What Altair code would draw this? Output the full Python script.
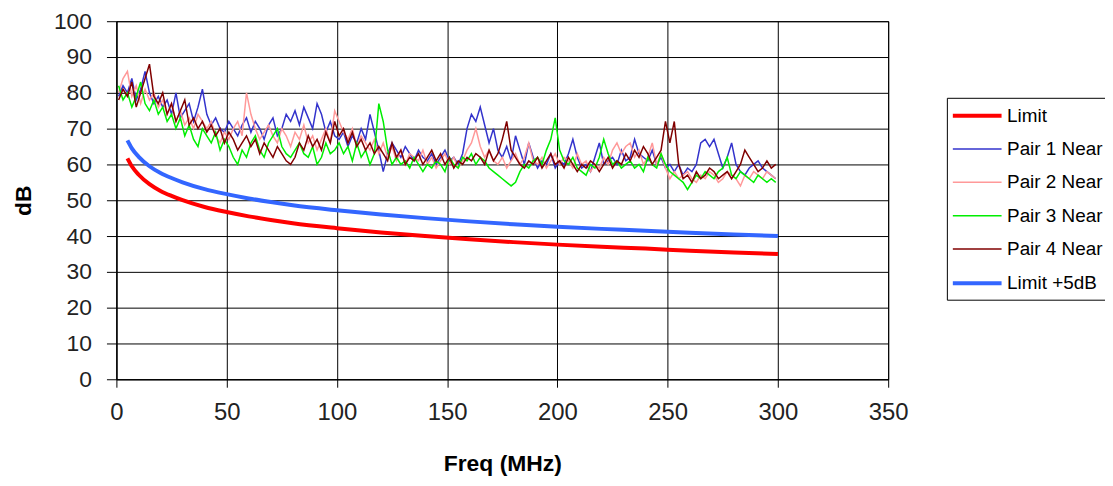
import altair as alt
import pandas as pd

# Sweep frequencies of the measured pairs (MHz)
pair_freq = list(range(1, 300, 2))

pair1 = [
    79, 82, 80, 84, 78, 81, 86, 80, 77, 79,
    76, 78, 74, 80, 73, 75, 77, 72, 76, 81,
    74, 71, 73, 70, 69, 72, 70, 68, 71, 73,
    69, 72, 70, 67, 71, 73, 68, 70, 74, 72,
    75, 71, 76, 73, 70, 77, 74, 69, 72, 68,
    67, 69, 65, 68, 66, 70, 67, 74, 69, 64,
    58, 63, 66, 64, 62, 65, 63, 61, 64, 62,
    61, 63, 60, 62, 64, 61, 62, 60, 63, 70,
    74, 72, 76, 71, 66, 70, 64, 62, 65, 61,
    68, 64, 60, 66, 62, 59, 61, 60, 63, 59,
    61, 60, 63, 67, 62, 59, 60, 58, 62, 66,
    60, 61, 62, 60, 64, 61, 62, 67, 63, 62,
    61, 64, 60, 62, 59, 60, 58, 60, 57, 59,
    58, 60, 66, 67, 65, 67, 63, 59, 62, 66,
    60, 58, 57, 59, 60, 61, 59, 58, 57, 56,
]
pair2 = [
    80, 84, 86, 79, 82, 77, 81, 78, 80, 76,
    78, 74, 77, 72, 75, 71, 73, 70, 74, 72,
    70, 72, 68, 66, 69, 67, 70, 72, 68, 80,
    74, 70, 67, 69, 71, 68, 66, 70, 68, 65,
    69, 67, 71, 66, 68, 64, 67, 70, 66, 75,
    72, 69, 67, 70, 65, 68, 66, 64, 67, 63,
    66, 62, 65, 61, 64, 60, 63, 62, 61, 64,
    60, 62, 59, 61, 63, 60, 62, 59, 61, 64,
    66, 70, 65, 62, 64, 61, 60, 62, 59, 61,
    63, 60, 62, 66, 61, 60, 62, 59, 61, 63,
    60, 62, 61, 59, 63, 60, 61, 58, 60, 59,
    62, 60, 64, 66, 63, 65, 66, 62, 64, 60,
    62, 66, 60, 63, 59, 56, 58, 56, 57, 58,
    56, 55, 57, 56, 58, 57, 55, 56, 58, 57,
    56, 54, 57, 56, 58, 57, 56, 58, 57, 56,
]
pair3 = [
    82, 78, 80, 76, 79, 83, 77, 75, 78, 74,
    76, 72, 74, 70, 73, 68, 71, 67, 65, 70,
    68, 66, 69, 64, 67, 65, 62, 60, 64, 62,
    66, 68, 64, 62, 66, 68, 70, 65, 63, 62,
    64, 66, 63, 62, 65, 60, 62, 66, 63, 64,
    66, 63, 65, 61, 66, 62, 64, 60, 63, 77,
    72, 64, 60, 62, 60, 61, 59, 62, 60, 58,
    60, 59, 61, 60, 58, 62, 60, 59, 62, 61,
    63, 60, 62, 61, 59, 58, 57, 56, 55, 54,
    55, 58, 60, 59, 61, 62, 60, 64, 67, 73,
    64, 61, 60, 62, 59, 58, 57, 60, 59, 62,
    67, 63, 60, 61, 59, 60, 61, 59, 60, 58,
    62, 60, 59, 63, 60, 58, 57, 56, 55, 53,
    55, 57, 56, 58, 57, 56, 58, 59, 62, 57,
    56, 58, 57, 56, 55, 57, 56, 55, 56, 55,
]
pair4 = [
    78, 81, 79, 83, 76, 80, 84, 88, 79, 77,
    80, 74, 77, 72, 75, 78, 71, 73, 70, 72,
    69, 71, 68, 70, 66, 69, 67, 64, 66, 68,
    65, 67, 63, 66, 64, 62, 65, 63, 61, 60,
    62, 66, 64, 68, 65, 67, 64, 69, 66, 72,
    68, 70, 66, 69, 65, 67, 64, 66, 63, 65,
    63, 61, 66, 62, 64, 60, 62, 61, 63, 60,
    62, 64, 61, 63, 60, 62, 59, 61, 60, 62,
    61, 63, 62, 60, 64, 61, 63, 67, 72, 64,
    62, 60, 59, 61, 60, 62, 59, 61, 63, 60,
    61, 59, 62, 60, 58, 60, 59, 61, 60, 58,
    60, 62, 59, 61, 60, 63, 61, 64, 62, 65,
    63, 60, 62, 64, 72, 66, 72, 60, 56, 57,
    55, 58, 56, 57, 59, 58, 56, 57, 58, 56,
    58, 60, 64, 62, 60, 58, 59, 61, 59, 60,
]

limit_freq = [5, 7, 10, 15, 20, 25, 30, 40, 50, 60, 70, 80, 100, 120, 140,
              160, 180, 200, 220, 240, 260, 280, 300]
limit_db = [61.7, 59.5, 57.2, 54.5, 52.6, 51.2, 50.0, 48.1, 46.7, 45.5, 44.5,
            43.6, 42.2, 41.0, 40.0, 39.1, 38.3, 37.6, 37.0, 36.5, 35.9, 35.4, 35.0]
limit5_db = [66.7, 64.5, 62.2, 59.5, 57.6, 56.2, 55.0, 53.1, 51.7, 50.5, 49.5,
             48.6, 47.2, 46.0, 45.0, 44.1, 43.3, 42.6, 42.0, 41.5, 40.9, 40.4, 40.0]

series_names = ["Limit", "Pair 1 Near", "Pair 2 Near", "Pair 3 Near",
                "Pair 4 Near", "Limit +5dB"]
series_colors = ["#ff0000", "#3333cc", "#ff9999", "#00ee00", "#800000", "#3366ff"]
series_widths = [4, 1.5, 1.5, 1.5, 1.5, 4]

x_ticks = [0, 50, 100, 150, 200, 250, 300, 350]
y_ticks = [0, 10, 20, 30, 40, 50, 60, 70, 80, 90, 100]

frames = [
    pd.DataFrame({"freq": limit_freq, "db": limit_db, "series": "Limit"}),
    pd.DataFrame({"freq": limit_freq, "db": limit5_db, "series": "Limit +5dB"}),
    pd.DataFrame({"freq": pair_freq, "db": pair1, "series": "Pair 1 Near"}),
    pd.DataFrame({"freq": pair_freq, "db": pair2, "series": "Pair 2 Near"}),
    pd.DataFrame({"freq": pair_freq, "db": pair3, "series": "Pair 3 Near"}),
    pd.DataFrame({"freq": pair_freq, "db": pair4, "series": "Pair 4 Near"}),
]
df = pd.concat(frames, ignore_index=True)

legend = alt.Legend(
    title=None, orient="none", legendX=835, legendY=77,
    strokeColor="black", fillColor="white", padding=6, rowPadding=12.5,
    labelFont="Liberation Sans", labelFontSize=19, labelColor="black",
    labelLimit=300, symbolType="M-2.5,0H2.5", symbolSize=384,
    symbolOffset=12.5, labelOffset=18, cornerRadius=0,
)

x_enc = alt.X("freq:Q", scale=alt.Scale(domain=[0, 350], nice=False),
              axis=alt.Axis(values=x_ticks, title="Freq (MHz)", labelFontSize=24,
                            titleFontSize=23, titlePadding=29, labelPadding=13,
                            tickSize=8, labelFlush=False))
y_enc = alt.Y("db:Q", scale=alt.Scale(domain=[0, 100], nice=False),
              axis=alt.Axis(values=y_ticks, title="dB", labelFontSize=23,
                            titleFontSize=23, titlePadding=18, labelPadding=15,
                            tickSize=10, labelFlush=False))
color_enc = alt.Color("series:N", scale=alt.Scale(domain=series_names, range=series_colors),
                      legend=legend)
width_enc = alt.StrokeWidth("series:N",
                            scale=alt.Scale(type="ordinal", domain=series_names, range=series_widths),
                            legend=legend)

layers = []
for name in ["Limit", "Limit +5dB", "Pair 1 Near", "Pair 2 Near", "Pair 3 Near", "Pair 4 Near"]:
    interp = "monotone" if name.startswith("Limit") else "linear"
    layers.append(
        alt.Chart(df).transform_filter(alt.datum.series == name)
        .mark_line(interpolate=interp, clip=True)
        .encode(x=x_enc, y=y_enc, color=color_enc, strokeWidth=width_enc)
    )

chart = alt.layer(*layers).properties(
    width=776, height=360,
    padding={"left": 109, "top": 12, "right": 218, "bottom": 100},
    autosize="none",
).configure_view(stroke="black", strokeWidth=1).configure_axis(
    gridColor="black", gridOpacity=1, gridWidth=1,
    domainColor="black", tickColor="black", labelColor="#222222",
    titleColor="black", labelFont="Liberation Sans", titleFont="Liberation Sans",
    titleFontWeight="bold",
)

chart.save("out.html", embed_options={"renderer": "svg", "actions": False})
